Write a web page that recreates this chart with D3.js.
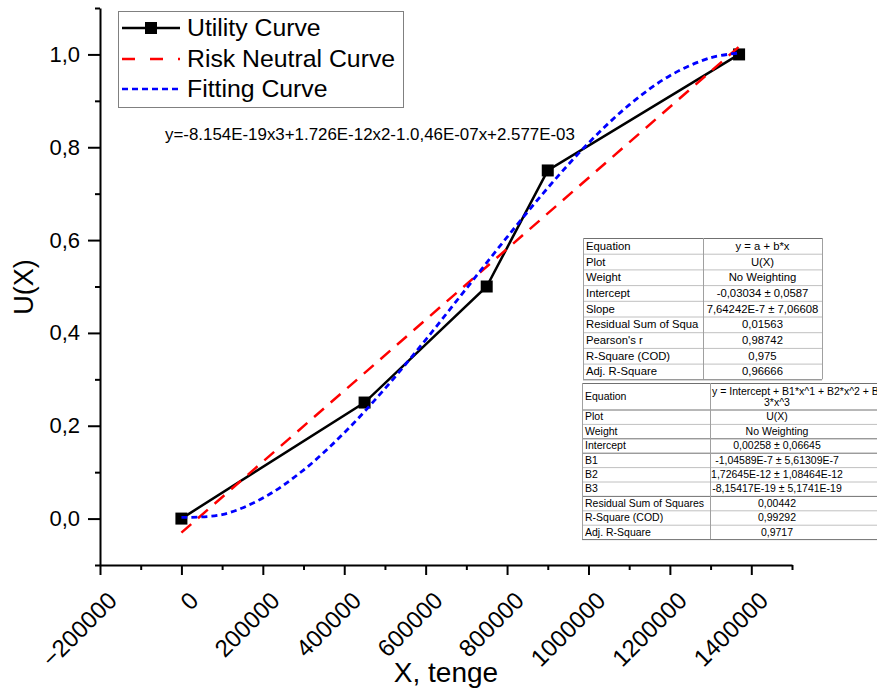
<!DOCTYPE html>
<html>
<head>
<meta charset="utf-8">
<script src="https://cdn.jsdelivr.net/npm/d3@7"></script>
<style>
    body { margin: 0; background: white; }
    text { font-family: Arial, "Liberation Sans", sans-serif; }
</style>
</head>
<body>
<div id="mainvis"></div>
<script>
// utility points
let utilX = [0, 450000, 750000, 900000, 1370000];
let utilY = [0, 0.25, 0.5, 0.75, 1.0];

// risk neutral line (linear fit ends)
let riskX = [0, 1370000];
let riskY = [-0.0303, 1.0167];

// cubic fitting curve, sampled
let fitX = [0, 100000, 200000, 300000, 400000, 500000, 600000, 700000, 800000, 900000, 1000000, 1100000, 1200000, 1300000, 1370000];
let fitY = [0.0026, 0.0086, 0.0442, 0.1046, 0.1848, 0.2800, 0.3852, 0.4956, 0.6063, 0.7124, 0.8090, 0.8912, 0.9541, 0.9928, 1.0029];

let xMajor = [-200000, 0, 200000, 400000, 600000, 800000, 1000000, 1200000, 1400000];
let xMinor = [-100000, 100000, 300000, 500000, 700000, 900000, 1100000, 1300000, 1500000];
let yMajor = [0, 0.2, 0.4, 0.6, 0.8, 1.0];
let yMinor = [-0.1, 0.1, 0.3, 0.5, 0.7, 0.9, 1.1];

let legendNames = ["Utility Curve", "Risk Neutral Curve", "Fitting Curve"];
let fitEquation = "y=-8.154E-19x3+1.726E-12x2-1.0,46E-07x+2.577E-03";

let linLabels = ["Equation", "Plot", "Weight", "Intercept", "Slope", "Residual Sum of Squa", "Pearson's r", "R-Square (COD)", "Adj. R-Square"];
let linValues = ["y = a + b*x", "U(X)", "No Weighting", "-0,03034 ± 0,0587", "7,64242E-7 ± 7,06608", "0,01563", "0,98742", "0,975", "0,96666"];

let polyLabels = ["Equation", "Plot", "Weight", "Intercept", "B1", "B2", "B3", "Residual Sum of Squares", "R-Square (COD)", "Adj. R-Square"];
let polyValues = ["3*x^3", "U(X)", "No Weighting", "0,00258 ± 0,06645", "-1,04589E-7 ± 5,61309E-7", "1,72645E-12 ± 1,08464E-12", "-8,15417E-19 ± 5,1741E-19", "0,00442", "0,99292", "0,9717"];
let polyEqFirst = "y = Intercept + B1*x^1 + B2*x^2 + B";

let svg = d3.select("#mainvis")
    .append("svg")
    .attr("width", 877)
    .attr("height", 691);

svg.append("rect").attr("width", 877).attr("height", 691).style("fill", "white");

let xScale = d3.scaleLinear()
    .domain([-200000, 1500000])
    .range([100, 792]);

let yScale = d3.scaleLinear()
    .domain([-0.1, 1.1])
    .range([565, 8]);

let fmtY = d => d3.format(".1f")(d).replace(".", ",");

// y axis
let yAxisG = svg.append("g").attr("transform", "translate(100,0)");
yAxisG.call(d3.axisLeft(yScale).tickValues(yMinor).tickSize(5).tickSizeOuter(0).tickFormat(""));
yAxisG.append("g").call(d3.axisLeft(yScale).tickValues(yMajor).tickSize(12).tickSizeOuter(0).tickPadding(8).tickFormat(fmtY))
    .select(".domain").remove();

// x axis
let xAxisG = svg.append("g").attr("transform", "translate(0,565)");
xAxisG.call(d3.axisBottom(xScale).tickValues(xMinor).tickSize(5).tickSizeOuter(0).tickFormat(""));
let xMajG = xAxisG.append("g").call(d3.axisBottom(xScale).tickValues(xMajor).tickSize(10).tickSizeOuter(0).tickFormat(d3.format("d")));
xMajG.select(".domain").remove();
xMajG.selectAll("text")
    .attr("x", 0)
    .attr("y", 0)
    .attr("dy", "0.35em")
    .attr("text-anchor", "end")
    .attr("transform", "translate(12,31) rotate(-45)");

svg.selectAll(".domain").style("stroke", "black").style("stroke-width", 2);
svg.selectAll(".tick line").style("stroke", "black").style("stroke-width", 2);
yAxisG.selectAll("text").style("font-size", "22px").style("fill", "black");
xAxisG.selectAll("text").style("font-size", "24px").style("fill", "black");

// axis titles
svg.append("text")
    .attr("x", 446)
    .attr("y", 682)
    .attr("text-anchor", "middle")
    .style("font-size", "28px")
    .text("X, tenge");

svg.append("text")
    .attr("transform", "translate(33,287) rotate(-90)")
    .attr("text-anchor", "middle")
    .style("font-size", "27px")
    .text("U(X)");

// curves
let utilLine = d3.line().x(d => xScale(d[0])).y(d => yScale(d[1]));
let utilData = utilX.map((x, i) => [x, utilY[i]]);
let riskData = riskX.map((x, i) => [x, riskY[i]]);
let fitData = fitX.map((x, i) => [x, fitY[i]]);

svg.append("path")
    .datum(utilData)
    .attr("d", utilLine)
    .style("fill", "none")
    .style("stroke", "black")
    .style("stroke-width", 2.5);

svg.selectAll(".utilpoint")
    .data(utilData)
    .enter()
    .append("rect")
    .attr("class", "utilpoint")
    .attr("x", d => xScale(d[0]) - 6)
    .attr("y", d => yScale(d[1]) - 6)
    .attr("width", 12)
    .attr("height", 12)
    .style("fill", "black");

svg.append("path")
    .datum(riskData)
    .attr("d", utilLine)
    .style("fill", "none")
    .style("stroke", "#ff0000")
    .style("stroke-width", 2.5)
    .style("stroke-dasharray", "13,9");

svg.append("path")
    .datum(fitData)
    .attr("d", d3.line().curve(d3.curveCatmullRom).x(d => xScale(d[0])).y(d => yScale(d[1])))
    .style("fill", "none")
    .style("stroke", "#0000ff")
    .style("stroke-width", 2.8)
    .style("stroke-dasharray", "6,4");

// legend
let legend = svg.append("g");
legend.append("rect")
    .attr("x", 118.5)
    .attr("y", 11.5)
    .attr("width", 285)
    .attr("height", 96)
    .style("fill", "white")
    .style("stroke", "#808080")
    .style("stroke-width", 1);

let legendStyles = [
    {color: "black", dash: null},
    {color: "#ff0000", dash: "13,15"},
    {color: "#0000ff", dash: "6,4"}
];
let legendRowY = [28, 59, 89];

legendNames.forEach((name, i) => {
    legend.append("line")
        .attr("x1", 122).attr("x2", 180)
        .attr("y1", legendRowY[i]).attr("y2", legendRowY[i])
        .style("stroke", legendStyles[i].color)
        .style("stroke-width", 2.5)
        .style("stroke-dasharray", legendStyles[i].dash);
    if (i == 0) {
        legend.append("rect")
            .attr("x", 145).attr("y", legendRowY[i] - 6)
            .attr("width", 12).attr("height", 12)
            .style("fill", "black");
    }
    legend.append("text")
        .attr("x", 187)
        .attr("y", legendRowY[i] + 8)
        .style("font-size", "24.8px")
        .text(name);
});

svg.append("text")
    .attr("x", 165)
    .attr("y", 140)
    .style("font-size", "16.9px")
    .text(fitEquation);

// fit tables
function drawTable(labels, values, left, mid, right, top, rowHeights, fontSize, valueCenter, darkRows) {
    let g = svg.append("g");
    let ys = [top];
    rowHeights.forEach(h => ys.push(ys[ys.length - 1] + h));
    g.append("rect")
        .attr("x", left).attr("y", top)
        .attr("width", right - left).attr("height", ys[ys.length - 1] - top)
        .style("fill", "white");
    ys.forEach((y, i) => {
        g.append("line")
            .attr("x1", left).attr("x2", right)
            .attr("y1", y + 0.5).attr("y2", y + 0.5)
            .style("stroke", darkRows.includes(i) ? "#707070" : "#c0c0c0")
            .style("stroke-width", 1);
    });
    [left, mid, right].forEach(x => {
        g.append("line")
            .attr("x1", x + 0.5).attr("x2", x + 0.5)
            .attr("y1", top).attr("y2", ys[ys.length - 1])
            .style("stroke", "#a0a0a0")
            .style("stroke-width", 1);
    });
    labels.forEach((lab, i) => {
        let cy = (ys[i] + ys[i + 1]) / 2;
        g.append("text")
            .attr("x", left + 3)
            .attr("y", cy)
            .attr("dy", "0.35em")
            .style("font-size", fontSize + "px")
            .text(lab);
        g.append("text")
            .attr("x", valueCenter)
            .attr("y", cy)
            .attr("dy", "0.35em")
            .attr("text-anchor", "middle")
            .style("font-size", fontSize + "px")
            .text(values[i]);
    });
    return {g: g, ys: ys};
}

drawTable(linLabels, linValues, 583, 703, 822, 238, d3.range(9).map(() => 15.7), 11.3, 762.5, [0, 9]);

let polyRows = [26.5].concat(d3.range(9).map(() => 14.4));
let t2 = drawTable(polyLabels, polyValues, 582, 710, 880, 383, polyRows, 10.5, 777, [0, 1, 3, 4, 7, 10]);
// equation row holds two lines: move wrapped part down, first part on top
t2.g.selectAll("text").filter(function() { return d3.select(this).text() == "3*x^3"; })
    .attr("y", 383 + 19.5);
t2.g.append("text")
    .attr("x", 712)
    .attr("y", 383 + 8)
    .attr("dy", "0.35em")
    .style("font-size", "10.5px")
    .text(polyEqFirst);
</script>
</body>
</html>
